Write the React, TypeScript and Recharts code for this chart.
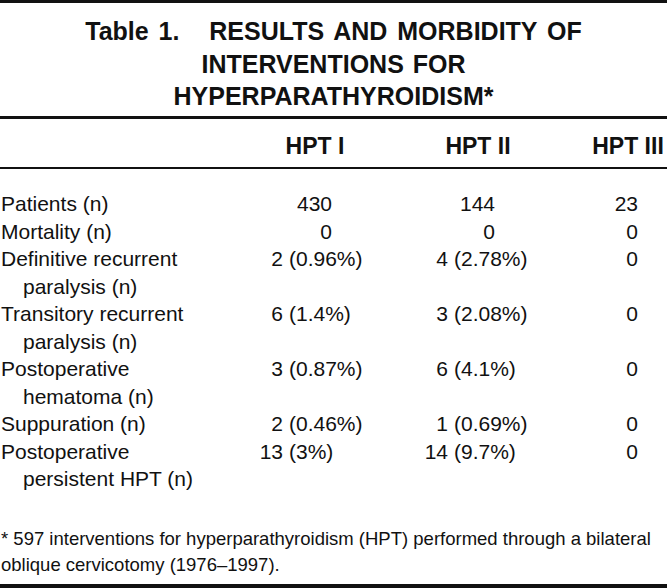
import React from "react";
import { Surface, Layer, Text } from "recharts";

const titleLines = [
  "Table 1.\u00A0\u00A0 RESULTS AND MORBIDITY OF",
  "INTERVENTIONS FOR",
  "HYPERPARATHYROIDISM*",
];

const columns = ["HPT I", "HPT II", "HPT III"];

const rowLabels: string[][] = [
  ["Patients (n)"],
  ["Mortality (n)"],
  ["Definitive recurrent", "paralysis (n)"],
  ["Transitory recurrent", "paralysis (n)"],
  ["Postoperative", "hematoma (n)"],
  ["Suppuration (n)"],
  ["Postoperative", "persistent HPT (n)"],
];

const hpt1Counts = [430, 0, 2, 6, 3, 2, 13];
const hpt1Pcts = [null, null, "0.96%", "1.4%", "0.87%", "0.46%", "3%"];
const hpt2Counts = [144, 0, 4, 3, 6, 1, 14];
const hpt2Pcts = [null, null, "2.78%", "2.08%", "4.1%", "0.69%", "9.7%"];
const hpt3Counts = [23, 0, 0, 0, 0, 0, 0];

const footnote = [
  "* 597 interventions for hyperparathyroidism (HPT) performed through a bilateral",
  "oblique cervicotomy (1976–1997).",
];

const W = 667;
const H = 588;
const FONT = "'Liberation Sans', Arial, Helvetica, sans-serif";
const INK = "#111";

// column geometry: right edge of whole numbers, right edge of counts that carry a %
const colCenter = [315, 478, 628];
const colWholeRight = [332, 495, 638];
const colCountRight = [283, 448, 638];

const bodyTop = 211;
const lineStep = 27.5;

export default function App() {
  const series = [
    { counts: hpt1Counts, pcts: hpt1Pcts },
    { counts: hpt2Counts, pcts: hpt2Pcts },
    { counts: hpt3Counts, pcts: hpt3Counts.map(() => null) },
  ];

  let lineIdx = 0;
  const rowStarts = rowLabels.map((lines) => {
    const s = lineIdx;
    lineIdx += lines.length;
    return s;
  });

  return (
    <div style={{ position: "absolute", left: 0, top: 0, width: W, height: H, background: "#fff" }}>
      <Surface width={W} height={H}>
        <rect x={0} y={0} width={W} height={H} fill="#fff" />
        <rect x={0} y={0} width={W} height={3} fill={INK} />
        <rect x={0} y={116} width={W} height={3} fill={INK} />
        <rect x={0} y={167} width={W} height={2} fill={INK} />
        <rect x={0} y={584} width={W} height={4} fill={INK} />

        <Layer>
          {titleLines.map((t, i) => (
            <Text
              key={t}
              x={W / 2}
              y={40 + i * 32.5}
              textAnchor="middle"
              fontFamily={FONT}
              fontWeight="bold"
              fontSize={25}
              fill={INK}
              style={{ wordSpacing: i === 0 ? 3 : 2 }}
            >
              {t}
            </Text>
          ))}
        </Layer>

        <Layer>
          {columns.map((c, i) => (
            <Text
              key={c}
              x={colCenter[i]}
              y={154}
              textAnchor="middle"
              fontFamily={FONT}
              fontWeight="bold"
              fontSize={23}
              fill={INK}
            >
              {c}
            </Text>
          ))}
        </Layer>

        <Layer>
          {rowLabels.map((lines, r) =>
            lines.map((l, k) => (
              <Text
                key={`${r}-${k}`}
                x={k === 0 ? 1 : 23}
                y={bodyTop + (rowStarts[r] + k) * lineStep}
                fontFamily={FONT}
                fontSize={21}
                fill={INK}
              >
                {l}
              </Text>
            ))
          )}
        </Layer>

        <Layer>
          {series.map((s, ci) =>
            s.counts.map((v, r) => {
              const y = bodyTop + rowStarts[r] * lineStep;
              const pct = s.pcts[r];
              if (!pct) {
                return (
                  <Text
                    key={`${ci}-${r}`}
                    x={ci === 2 ? colCountRight[ci] : colWholeRight[ci]}
                    y={y}
                    textAnchor="end"
                    fontFamily={FONT}
                    fontSize={21}
                    fill={INK}
                  >
                    {String(v)}
                  </Text>
                );
              }
              return (
                <React.Fragment key={`${ci}-${r}`}>
                  <Text x={colCountRight[ci]} y={y} textAnchor="end" fontFamily={FONT} fontSize={21} fill={INK}>
                    {String(v)}
                  </Text>
                  <Text x={colCountRight[ci] + 6} y={y} textAnchor="start" fontFamily={FONT} fontSize={21} fill={INK}>
                    {`(${pct})`}
                  </Text>
                </React.Fragment>
              );
            })
          )}
        </Layer>

        <Layer>
          {footnote.map((f, i) => (
            <Text key={f} x={1} y={545 + i * 26} fontFamily={FONT} fontSize={18.5} fill={INK}>
              {f}
            </Text>
          ))}
        </Layer>
      </Surface>
    </div>
  );
}
